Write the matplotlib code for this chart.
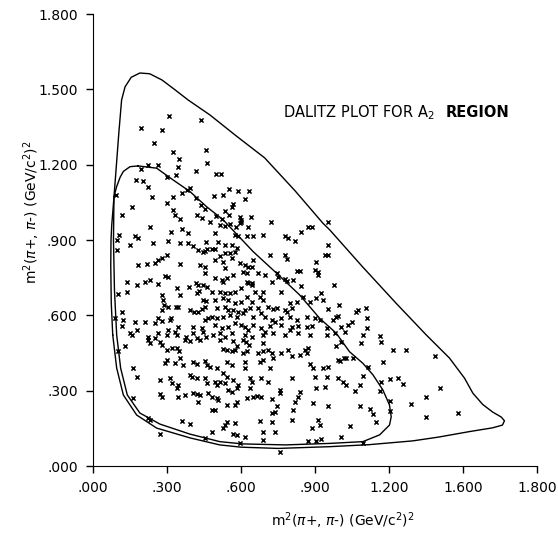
import matplotlib
matplotlib.use('Agg')
import matplotlib.pyplot as plt
import numpy as np

# axis ticks (the 1.500 tick on the x axis is printed as "1.600" in the original)
tick_vals = [0.0, 0.3, 0.6, 0.9, 1.2, 1.5, 1.8]
x_tick_labels = ['.000', '.300', '.600', '.900', '1.200', '1.600', '1.800']
y_tick_labels = ['.000', '.300', '.600', '.900', '1.200', '1.500', '1.800']

# kinematic boundaries
outer_x = [0.080, 0.074, 0.072, 0.073, 0.076, 0.085, 0.095, 0.105, 0.116, 0.130, 0.155, 0.190,
           0.230, 0.280, 0.330, 0.385, 0.474, 0.580, 0.696, 0.820, 0.932, 0.960, 1.093, 1.229,
           1.351, 1.445, 1.506, 1.540, 1.580, 1.620, 1.655, 1.668, 1.660, 1.620, 1.526, 1.400,
           1.296, 1.120, 0.960, 0.750, 0.600, 0.514, 0.393, 0.258, 0.177, 0.123, 0.096, 0.080]
outer_y = [0.522, 0.650, 0.800, 0.900, 0.960, 1.070, 1.200, 1.330, 1.458, 1.510, 1.548, 1.565,
           1.562, 1.537, 1.500, 1.458, 1.398, 1.315, 1.227, 1.095, 0.967, 0.940, 0.793, 0.648,
           0.522, 0.430, 0.350, 0.290, 0.245, 0.215, 0.195, 0.180, 0.163, 0.152, 0.137, 0.115,
           0.100, 0.085, 0.077, 0.070, 0.075, 0.084, 0.112, 0.151, 0.203, 0.283, 0.390, 0.522]

inner_x = [0.183, 0.258, 0.325, 0.393, 0.460, 0.528, 0.649, 0.744, 0.838, 0.919, 0.986, 1.040,
           1.094, 1.135, 1.175, 1.202, 1.209, 1.202, 1.162, 1.094, 0.960, 0.780, 0.607, 0.514,
           0.393, 0.271, 0.190, 0.139, 0.112, 0.096, 0.087, 0.083, 0.085, 0.096, 0.110, 0.123,
           0.150, 0.183]
inner_y = [1.195, 1.186, 1.139, 1.093, 1.033, 0.980, 0.854, 0.768, 0.681, 0.588, 0.529, 0.455,
           0.409, 0.363, 0.303, 0.243, 0.196, 0.163, 0.124, 0.097, 0.090, 0.084, 0.088, 0.097,
           0.127, 0.167, 0.211, 0.283, 0.390, 0.522, 0.700, 0.900, 1.073, 1.113, 1.150, 1.173,
           1.192, 1.195]

# events, (m2 x, m2 y), grouped by region of the plot
events_top_left = [
    (0.309, 1.394), (0.437, 1.376), (0.194, 1.345), (0.278, 1.339), (0.246, 1.288), (0.325, 1.250),
    (0.459, 1.259), (0.349, 1.223), (0.464, 1.208), (0.345, 1.192), (0.265, 1.197), (0.224, 1.200),
    (0.193, 1.182), (0.417, 1.173), (0.497, 1.163), (0.302, 1.150), (0.336, 1.159), (0.173, 1.139),
    (0.204, 1.133), (0.224, 1.110), (0.393, 1.106), (0.382, 1.100), (0.238, 1.073), (0.323, 1.073),
    (0.359, 1.089), (0.301, 1.049), (0.417, 1.066), (0.490, 1.076), (0.157, 1.031), (0.116, 1.000),
    (0.093, 1.080), (0.325, 1.020), (0.332, 1.000), (0.352, 0.984), (0.436, 1.040), (0.453, 1.023),
    (0.422, 1.000), (0.443, 0.987), (0.474, 0.973), (0.498, 0.996),
]
events_top_mid = [
    (0.518, 1.163), (0.525, 1.080), (0.552, 1.102), (0.588, 1.097), (0.633, 1.097), (0.615, 1.062),
    (0.568, 1.044), (0.565, 1.031), (0.534, 1.017), (0.552, 1.000), (0.521, 0.983), (0.595, 0.993),
    (0.602, 0.980), (0.642, 0.991), (0.723, 0.971), (0.555, 0.964),
]
events_mid_left = [
    (0.231, 0.951), (0.318, 0.930), (0.359, 0.943), (0.386, 0.927), (0.107, 0.920), (0.096, 0.900),
    (0.170, 0.916), (0.184, 0.907), (0.150, 0.880), (0.096, 0.861), (0.244, 0.887), (0.305, 0.898),
    (0.352, 0.890), (0.386, 0.887), (0.406, 0.876), (0.460, 0.894), (0.426, 0.861), (0.444, 0.854),
    (0.453, 0.858), (0.463, 0.863), (0.298, 0.841), (0.278, 0.827), (0.265, 0.821), (0.251, 0.810),
    (0.217, 0.805), (0.184, 0.801), (0.352, 0.803), (0.433, 0.801), (0.453, 0.794), (0.453, 0.768),
    (0.291, 0.757), (0.305, 0.752), (0.231, 0.741), (0.211, 0.734), (0.177, 0.721), (0.136, 0.734),
    (0.265, 0.725), (0.341, 0.708), (0.390, 0.714), (0.417, 0.730), (0.426, 0.721), (0.447, 0.721),
    (0.463, 0.714), (0.103, 0.685), (0.136, 0.691), (0.278, 0.681), (0.420, 0.688), (0.430, 0.695),
    (0.352, 0.681), (0.285, 0.661), (0.287, 0.641), (0.278, 0.622), (0.305, 0.632), (0.336, 0.635),
    (0.345, 0.632), (0.447, 0.661), (0.460, 0.659), (0.393, 0.622), (0.409, 0.615), (0.426, 0.615),
    (0.440, 0.624), (0.453, 0.632), (0.116, 0.615), (0.089, 0.588), (0.123, 0.582), (0.116, 0.558),
    (0.170, 0.575), (0.211, 0.575), (0.251, 0.568), (0.265, 0.588), (0.278, 0.579), (0.312, 0.582),
    (0.318, 0.588), (0.345, 0.555), (0.305, 0.542), (0.332, 0.535), (0.406, 0.555), (0.453, 0.582),
    (0.467, 0.588), (0.440, 0.548), (0.447, 0.535), (0.150, 0.529), (0.157, 0.522), (0.177, 0.542),
    (0.224, 0.515), (0.251, 0.509), (0.265, 0.529), (0.298, 0.522), (0.339, 0.522), (0.379, 0.515),
    (0.406, 0.529), (0.420, 0.509), (0.460, 0.515),
]
events_centre = [
    (0.494, 0.927), (0.515, 0.960), (0.535, 0.956), (0.579, 0.953), (0.596, 0.967), (0.602, 0.973),
    (0.629, 0.953), (0.872, 0.953), (0.886, 0.951), (0.953, 0.973), (0.575, 0.920), (0.589, 0.914),
    (0.623, 0.914), (0.650, 0.914), (0.690, 0.920), (0.778, 0.914), (0.791, 0.907), (0.845, 0.930),
    (0.818, 0.898), (0.508, 0.894), (0.535, 0.880), (0.562, 0.880), (0.582, 0.867), (0.481, 0.863),
    (0.494, 0.863), (0.535, 0.847), (0.515, 0.837), (0.555, 0.847), (0.575, 0.854), (0.953, 0.880),
    (0.953, 0.841), (0.940, 0.841), (0.494, 0.821), (0.528, 0.814), (0.562, 0.827), (0.596, 0.807),
    (0.616, 0.801), (0.629, 0.794), (0.643, 0.791), (0.650, 0.821), (0.717, 0.841), (0.778, 0.841),
    (0.785, 0.823), (0.906, 0.814), (0.535, 0.787), (0.569, 0.761), (0.609, 0.774), (0.623, 0.768),
    (0.670, 0.768), (0.697, 0.761), (0.744, 0.768), (0.751, 0.754), (0.825, 0.778), (0.839, 0.778),
    (0.899, 0.781), (0.913, 0.774), (0.913, 0.761), (0.494, 0.748), (0.521, 0.741), (0.542, 0.748),
    (0.528, 0.734), (0.623, 0.734), (0.629, 0.728), (0.643, 0.730), (0.724, 0.734), (0.778, 0.744),
    (0.787, 0.738), (0.812, 0.741), (0.845, 0.717), (0.481, 0.694), (0.515, 0.694), (0.535, 0.690),
    (0.555, 0.688), (0.575, 0.694), (0.602, 0.708), (0.643, 0.721), (0.656, 0.694), (0.690, 0.694),
    (0.764, 0.694), (0.926, 0.688), (0.879, 0.655), (0.933, 0.661), (0.494, 0.661), (0.528, 0.668),
    (0.548, 0.661), (0.575, 0.648), (0.602, 0.655), (0.623, 0.675), (0.677, 0.675), (0.690, 0.661),
    (0.643, 0.655), (0.710, 0.635), (0.731, 0.624), (0.744, 0.628), (0.778, 0.621), (0.785, 0.615),
    (0.798, 0.648), (0.805, 0.628), (0.852, 0.675), (0.501, 0.628), (0.535, 0.635), (0.548, 0.621),
    (0.569, 0.621), (0.589, 0.615), (0.616, 0.621), (0.636, 0.628), (0.670, 0.628), (0.683, 0.608),
    (0.825, 0.655), (0.906, 0.668), (0.953, 0.624), (0.481, 0.595), (0.501, 0.588), (0.528, 0.595),
    (0.555, 0.602), (0.582, 0.595), (0.609, 0.608), (0.650, 0.595), (0.697, 0.595), (0.724, 0.582),
    (0.737, 0.575), (0.764, 0.588), (0.798, 0.595), (0.825, 0.582), (0.866, 0.595), (0.899, 0.588),
    (0.920, 0.582), (0.987, 0.595), (0.494, 0.562), (0.521, 0.548), (0.548, 0.555), (0.575, 0.568),
    (0.602, 0.562), (0.616, 0.555), (0.629, 0.542), (0.650, 0.562), (0.683, 0.548), (0.697, 0.535),
    (0.717, 0.558), (0.764, 0.562), (0.805, 0.552), (0.832, 0.558), (0.866, 0.555), (0.886, 0.558),
    (0.947, 0.548), (0.488, 0.522), (0.515, 0.528), (0.535, 0.515), (0.562, 0.528), (0.616, 0.522),
    (0.643, 0.515), (0.690, 0.522), (0.731, 0.528), (0.778, 0.522), (0.798, 0.542), (0.832, 0.528),
    (0.879, 0.522), (0.947, 0.522), (0.980, 0.528),
]
events_mid_right = [
    (0.976, 0.721), (0.998, 0.641), (1.075, 0.621), (1.106, 0.628), (0.994, 0.598), (0.974, 0.582),
    (1.068, 0.615), (1.052, 0.575), (1.034, 0.562), (1.007, 0.555), (1.109, 0.588), (1.111, 0.548),
    (1.021, 0.535), (1.095, 0.522), (1.165, 0.519),
]
events_low_left = [
    (0.224, 0.502), (0.231, 0.489), (0.272, 0.493), (0.278, 0.482), (0.299, 0.462), (0.319, 0.469),
    (0.342, 0.469), (0.350, 0.458), (0.373, 0.502), (0.393, 0.498), (0.434, 0.502), (0.130, 0.476),
    (0.103, 0.456), (0.299, 0.422), (0.292, 0.409), (0.332, 0.409), (0.366, 0.402), (0.353, 0.432),
    (0.407, 0.416), (0.420, 0.405), (0.454, 0.418), (0.461, 0.402), (0.474, 0.396), (0.501, 0.389),
    (0.164, 0.389), (0.177, 0.356), (0.272, 0.343), (0.312, 0.349), (0.319, 0.329), (0.346, 0.323),
    (0.339, 0.310), (0.393, 0.363), (0.400, 0.356), (0.420, 0.349), (0.454, 0.349), (0.461, 0.329),
    (0.494, 0.336), (0.501, 0.323), (0.272, 0.286), (0.278, 0.276), (0.346, 0.276), (0.373, 0.283),
    (0.407, 0.290), (0.420, 0.286), (0.434, 0.283), (0.467, 0.290), (0.481, 0.276), (0.501, 0.270),
    (0.508, 0.263), (0.427, 0.256), (0.481, 0.223), (0.494, 0.223), (0.164, 0.270), (0.224, 0.190),
    (0.231, 0.183), (0.359, 0.179), (0.393, 0.166), (0.272, 0.126), (0.481, 0.134), (0.454, 0.110),
]
events_low_mid = [
    (0.515, 0.502), (0.569, 0.498), (0.609, 0.502), (0.620, 0.493), (0.633, 0.482), (0.690, 0.489),
    (0.987, 0.476), (0.528, 0.466), (0.542, 0.462), (0.562, 0.456), (0.575, 0.462), (0.585, 0.476),
    (0.609, 0.449), (0.623, 0.456), (0.670, 0.449), (0.690, 0.456), (0.710, 0.462), (0.724, 0.449),
    (0.731, 0.429), (0.764, 0.449), (0.791, 0.462), (0.805, 0.440), (0.839, 0.442), (0.859, 0.462),
    (0.866, 0.449), (0.872, 0.469), (0.542, 0.416), (0.562, 0.402), (0.616, 0.416), (0.616, 0.389),
    (0.677, 0.416), (0.690, 0.422), (0.717, 0.389), (0.879, 0.405), (0.893, 0.389), (0.933, 0.389),
    (0.953, 0.396), (0.994, 0.422), (0.528, 0.369), (0.542, 0.356), (0.515, 0.336), (0.535, 0.329),
    (0.569, 0.343), (0.636, 0.349), (0.643, 0.336), (0.683, 0.349), (0.710, 0.336), (0.805, 0.352),
    (0.899, 0.356), (0.947, 0.356), (0.994, 0.349), (0.548, 0.303), (0.562, 0.296), (0.582, 0.310),
    (0.589, 0.323), (0.636, 0.310), (0.650, 0.276), (0.663, 0.280), (0.683, 0.276), (0.724, 0.267),
    (0.758, 0.303), (0.760, 0.290), (0.839, 0.296), (0.832, 0.276), (0.818, 0.256), (0.940, 0.316),
    (0.906, 0.310), (0.542, 0.243), (0.575, 0.243), (0.582, 0.256), (0.623, 0.270), (0.744, 0.237),
    (0.737, 0.217), (0.724, 0.210), (0.812, 0.223), (0.893, 0.250), (0.953, 0.237), (0.535, 0.163),
    (0.528, 0.153), (0.542, 0.177), (0.575, 0.170), (0.677, 0.179), (0.724, 0.174), (0.805, 0.183),
    (0.913, 0.183), (0.920, 0.163), (0.886, 0.153), (0.569, 0.126), (0.582, 0.124), (0.616, 0.117),
    (0.690, 0.137), (0.737, 0.137), (0.690, 0.104), (0.596, 0.090), (0.872, 0.100), (0.906, 0.100),
    (0.926, 0.108), (0.758, 0.055),
]
events_low_right = [
    (1.007, 0.495), (1.088, 0.489), (1.169, 0.495), (1.217, 0.462), (1.268, 0.462), (1.385, 0.440),
    (1.001, 0.418), (1.017, 0.429), (1.025, 0.432), (1.055, 0.432), (1.115, 0.396), (1.176, 0.416),
    (1.095, 0.360), (1.014, 0.336), (1.025, 0.323), (1.082, 0.323), (1.169, 0.333), (1.203, 0.347),
    (1.237, 0.352), (1.257, 0.325), (1.061, 0.299), (1.163, 0.299), (1.406, 0.310), (1.352, 0.276),
    (1.291, 0.246), (1.203, 0.259), (1.082, 0.237), (1.122, 0.227), (1.136, 0.206), (1.203, 0.219),
    (1.352, 0.197), (1.480, 0.210), (1.149, 0.174), (1.041, 0.161), (1.007, 0.117), (1.095, 0.090),
]

all_events = (events_top_left + events_top_mid + events_mid_left + events_centre
              + events_mid_right + events_low_left + events_low_mid + events_low_right)
ev = np.array(all_events)

font = ['Liberation Sans Narrow', 'DejaVu Sans']

fig = plt.figure(figsize=(5.58, 5.36), dpi=100)
ax = fig.add_axes([93 / 558, 70 / 536, 444 / 558, 452 / 536])

ax.plot(outer_x, outer_y, color='black', linewidth=1.0)
ax.plot(inner_x, inner_y, color='black', linewidth=1.0)
ax.scatter(ev[:, 0], ev[:, 1], marker='x', s=9, linewidths=1.1, color='black')

ax.set_xlim(0, 1.8)
ax.set_ylim(0, 1.8)
ax.set_xticks(tick_vals)
ax.set_yticks(tick_vals)
ax.set_xticklabels(x_tick_labels, family=font, fontsize=10)
ax.set_yticklabels(y_tick_labels, family=font, fontsize=10)
ax.tick_params(direction='out', length=5, width=1, pad=6)
for side in ('top', 'right'):
    ax.spines[side].set_visible(False)

ax.set_xlabel(r'm$^2$($\pi$+, $\pi$-) (GeV/c$^2$)$^2$', family=font, fontsize=10)
ax.set_ylabel(r'm$^2$($\pi$+, $\pi$-) (GeV/c$^2$)$^2$', family=font, fontsize=10)
ax.xaxis.set_label_coords(0.563, -0.098)
ax.yaxis.set_label_coords(-0.115, 0.562)

# title inside the frame, last word printed heavier
ax.text(0.77, 1.39, r'DALITZ PLOT FOR A$_2$', family=font, fontsize=10.5)
ax.text(1.43, 1.39, 'REGION', family=font, fontsize=10.5, fontweight='bold')

fig.savefig('out.png', dpi=100)
